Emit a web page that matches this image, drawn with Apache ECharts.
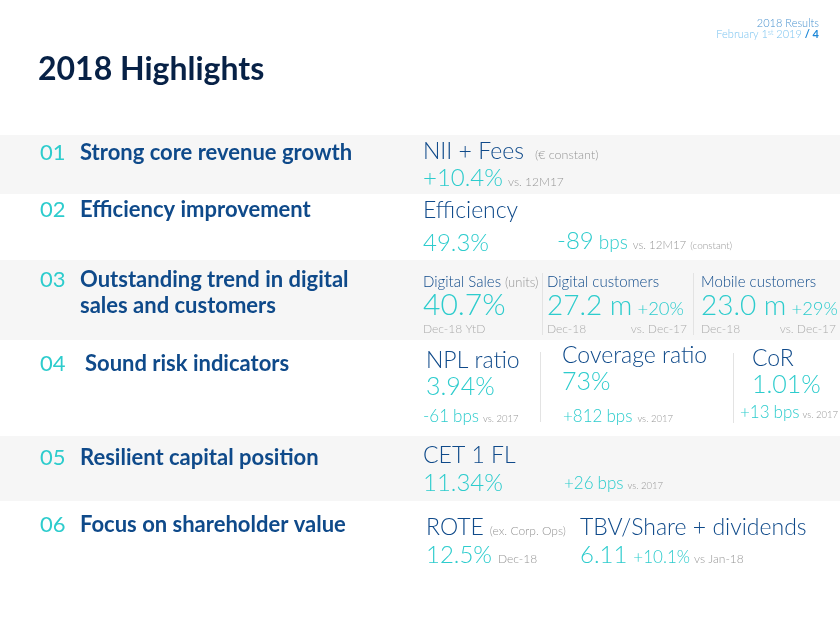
<!DOCTYPE html>
<html>
<head>
<meta charset="utf-8">
<script src="https://cdn.jsdelivr.net/npm/echarts@6/dist/echarts.min.js"></script>
<style>html,body{margin:0;padding:0;background:#fff;}#c{width:840px;height:625px;}</style>
</head>
<body>
<div id="c"></div>
<script>
// ---- data ----
const pageTitle = '2018 Highlights';
const headerLines = ['2018 Results', 'February 1', 'st', ' 2019', '/ 4'];
const sectionNumbers = ['01', '02', '03', '04', '05', '06'];
const sectionTitles = [
  ['Strong core revenue growth'],
  ['Efficiency improvement'],
  ['Outstanding trend in digital', 'sales and customers'],
  ['Sound risk indicators'],
  ['Resilient capital position'],
  ['Focus on shareholder value']
];
const metricNames = ['NII + Fees', 'Efficiency', 'Digital Sales', 'Digital customers', 'Mobile customers',
  'NPL ratio', 'Coverage ratio', 'CoR', 'CET 1 FL', 'ROTE', 'TBV/Share + dividends'];
const metricNotes = ['(€ constant)', '', '(units)', '', '', '', '', '', '', '(ex. Corp. Ops)', ''];
const metricValues = ['+10.4%', '49.3%', '40.7%', '27.2 m', '23.0 m', '3.94%', '73%', '1.01%', '11.34%', '12.5%', '6.11'];
const valueNotes = ['vs. 12M17', '', 'Dec-18 YtD', 'Dec-18', 'Dec-18', '', '', '', '', 'Dec-18', ''];
const changeValues = ['', '-89', '', '+20%', '+29%', '-61', '+812', '+13', '+26', '', '+10.1%'];
const changeUnits = ['', 'bps', '', '', '', 'bps', 'bps', 'bps', 'bps', '', ''];
const changeNotes = ['', 'vs. 12M17', '', 'vs. Dec-17', 'vs. Dec-17', 'vs. 2017', 'vs. 2017', 'vs. 2017', 'vs. 2017', '', 'vs Jan-18'];
const changeSubNotes = ['', '(constant)', '', '', '', '', '', '', '', '', ''];

// ---- styling / layout ----
const C = {
  navy: '#072146', blue: '#0f4a8a', teal: '#2dcccd', gray: '#969696', lgray: '#ababab',
  band: '#f6f6f6', sep: '#e3e3e3', hdr: '#4b93cf', hdr2: '#7cc4f0', hdr3: '#1e88d8'
};
const FONT = 'Lato, "Open Sans", Roboto, sans-serif';
const bands = [[135, 194], [260, 340], [436, 501]];
const sectionY = [[160], [217], [287, 313], [371], [465], [532]];
const sectionNumX = [40, 40, 40, 40, 40, 40];
const sectionTitleX = [80, 80, 80, 85, 80, 80];

// per metric layout
const L = [
  {nx: 423, ny: 159, ns: 23, nts: 12.5, ntg: 11, vx: 423, vy: 186, vs: 24, vns: 12, vng: 5},
  {nx: 423, ny: 218, ns: 23, vx: 423, vy: 251, vs: 24, cx: 557, cy: 249, cs: 24, us: 19, ug: 5, cns: 11.5, cng: 5, ss: 10},
  {nx: 423, ny: 287, ns: 15, nts: 13, ntg: 4, vx: 423, vy: 315, vs: 30, vny: 333},
  {nx: 547, ny: 287, ns: 15, vx: 547, vy: 315, vs: 28, vny: 333, cg: 5, cy: 315, cs: 18.5, cnr: 687, cny: 333},
  {nx: 701, ny: 287, ns: 15, vx: 701, vy: 315, vs: 28, vny: 333, cg: 5, cy: 315, cs: 18.5, cnr: 836, cny: 333},
  {nx: 426, ny: 368, ns: 23, vx: 426, vy: 395, vs: 25, cx: 423, cy: 422, cs: 17, us: 17, ug: 4, cns: 9.5, cng: 4},
  {nx: 562, ny: 363, ns: 23, vx: 562, vy: 390, vs: 25, cx: 563, cy: 422, cs: 17, us: 17, ug: 4, cns: 9.5, cng: 5},
  {nx: 752, ny: 366, ns: 23, vx: 752, vy: 393, vs: 25, cx: 740, cy: 418, cs: 17, us: 17, ug: 4, cns: 9.5, cng: 3},
  {nx: 423, ny: 463, ns: 23, vx: 423, vy: 491, vs: 24, cx: 564, cy: 489, cs: 17, us: 17, ug: 4, cns: 9.5, cng: 4},
  {nx: 426, ny: 535, ns: 23, nts: 12, ntg: 6, vx: 426, vy: 563, vs: 24, vns: 12, vng: 6},
  {nx: 580, ny: 535, ns: 23, vx: 580, vy: 563, vs: 24, cg: 6, cy: 563, cs: 17, cns: 12, cng: 4}
];
const separators = [[542, 273, 335], [693, 273, 335], [540, 352, 422], [733, 353, 423]];

// ---- build ----
const g = [];
function txt(x, base, s, size, color, weight, align) {
  g.push({
    type: 'text', x: x, y: base - size * 0.32,
    style: {text: s, fontSize: size, fill: color, fontFamily: FONT, fontWeight: weight || 'normal',
      align: align || 'left', verticalAlign: 'middle'}
  });
}
const ctx = document.createElement('canvas').getContext('2d');
function w(s, size, weight) {
  ctx.font = (weight || 'normal') + ' ' + size + 'px ' + FONT;
  return ctx.measureText(s).width;
}

bands.forEach(b => g.push({type: 'rect', shape: {x: 0, y: b[0], width: 840, height: b[1] - b[0]}, style: {fill: C.band}}));
separators.forEach(s => g.push({type: 'line', shape: {x1: s[0] + 0.5, y1: s[1], x2: s[0] + 0.5, y2: s[2]}, style: {stroke: C.sep, lineWidth: 1}}));

// header
txt(819, 27, headerLines[0], 11, C.hdr, 300, 'right');
{
  const slash = headerLines[4];
  const ws = w(slash, 11, 'bold');
  txt(819, 38, slash, 11, C.hdr3, 'bold', 'right');
  let xr = 819 - ws - 3;
  txt(xr, 38, headerLines[3], 11, C.hdr2, 300, 'right');
  xr -= w(headerLines[3], 11, 300);
  txt(xr, 35, headerLines[2], 7, C.hdr2, 300, 'right');
  xr -= w(headerLines[2], 7, 300);
  txt(xr, 38, headerLines[1], 11, C.hdr2, 300, 'right');
}
txt(38, 80, pageTitle, 32, C.navy, 'bold');

sectionNumbers.forEach((n, i) => {
  txt(sectionNumX[i], sectionY[i][0], n, 22, C.teal, 'normal');
  sectionTitles[i].forEach((line, j) => txt(sectionTitleX[i], sectionY[i][j], line, 22, C.blue, 'bold'));
});

metricNames.forEach((name, i) => {
  const p = L[i];
  txt(p.nx, p.ny, name, p.ns, C.blue, 300);
  if (metricNotes[i]) txt(p.nx + w(name, p.ns, 300) + p.ntg, p.ny, metricNotes[i], p.nts, C.gray, 300);
  txt(p.vx, p.vy, metricValues[i], p.vs, C.teal, 300);
  const vEnd = p.vx + w(metricValues[i], p.vs, 300);
  if (valueNotes[i]) {
    if (p.vny) txt(p.vx, p.vny, valueNotes[i], 12, C.lgray, 300);
    else txt(vEnd + p.vng, p.vy, valueNotes[i], p.vns, C.gray, 300);
  }
  if (changeValues[i]) {
    let x = p.cx != null ? p.cx : vEnd + p.cg;
    txt(x, p.cy, changeValues[i], p.cs, C.teal, 300);
    x += w(changeValues[i], p.cs, 300);
    if (changeUnits[i]) {
      x += p.ug;
      txt(x, p.cy, changeUnits[i], p.us, C.teal, 300);
      x += w(changeUnits[i], p.us, 300);
    }
    if (changeNotes[i]) {
      if (p.cnr) txt(p.cnr, p.cny, changeNotes[i], 12, C.lgray, 300, 'right');
      else {
        x += p.cng;
        txt(x, p.cy, changeNotes[i], p.cns, C.gray, 300);
        x += w(changeNotes[i], p.cns, 300);
      }
    }
    if (changeSubNotes[i]) txt(x + 4, p.cy, changeSubNotes[i], p.ss, C.gray, 300);
  }
});

const chart = echarts.init(document.getElementById('c'), null, {renderer: 'canvas'});
chart.setOption({backgroundColor: '#ffffff', animation: false, graphic: {elements: g}});
</script>
</body>
</html>
